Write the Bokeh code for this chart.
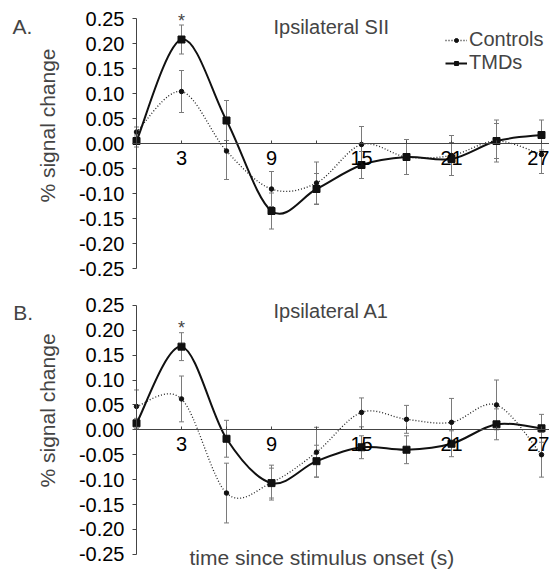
import numpy as np
from bokeh.plotting import figure
from bokeh.layouts import column
from bokeh.models import (ColumnDataSource, Whisker, TeeHead, Label, Legend, LegendItem,
                          FixedTicker, Range1d, CustomJSTickFormatter)
from bokeh.embed import file_html
from bokeh.resources import INLINE

# ---------------- data ----------------
time_s = [0, 3, 6, 9, 12, 15, 18, 21, 24, 27]

sii_controls = [0.023, 0.104, -0.015, -0.091, -0.079, -0.002, -0.027, -0.024, 0.005, -0.022]
sii_controls_se = [0.010, 0.042, 0.057, 0.035, 0.042, 0.036, 0.035, 0.040, 0.042, 0.038]
sii_tmds = [0.005, 0.208, 0.046, -0.135, -0.091, -0.043, -0.027, -0.031, 0.005, 0.017]
sii_tmds_se = [0.012, 0.029, 0.040, 0.036, 0.031, 0.027, 0.035, 0.033, 0.035, 0.030]

a1_controls = [0.047, 0.062, -0.127, -0.106, -0.045, 0.035, 0.021, 0.015, 0.050, -0.050]
a1_controls_se = [0.033, 0.046, 0.060, 0.035, 0.050, 0.029, 0.028, 0.048, 0.050, 0.045]
a1_tmds = [0.013, 0.167, -0.018, -0.107, -0.063, -0.035, -0.040, -0.028, 0.011, 0.003]
a1_tmds_se = [0.010, 0.028, 0.037, 0.030, 0.032, 0.023, 0.028, 0.026, 0.031, 0.028]

y_ticks = [-0.25, -0.20, -0.15, -0.10, -0.05, 0.0, 0.05, 0.10, 0.15, 0.20, 0.25]
x_tick_labels = [3, 9, 15, 21, 27]
x_minor_ticks = [6, 12, 18, 24]

FONT = "Liberation Sans"
FS = "20px"
X_END = 27.533


def smooth_segments(xs, ys):
    """Cubic Bezier control points (Catmull-Rom style) through the data points."""
    x = np.asarray(xs, float)
    y = np.asarray(ys, float)
    n = len(x)
    xp = np.concatenate([[x[0]], x, [x[-1]]])
    yp = np.concatenate([[y[0]], y, [y[-1]]])
    cx0 = xp[1:n] + (xp[2:n + 1] - xp[0:n - 1]) / 6
    cy0 = yp[1:n] + (yp[2:n + 1] - yp[0:n - 1]) / 6
    cx1 = xp[2:n + 1] - (xp[3:n + 2] - xp[1:n]) / 6
    cy1 = yp[2:n + 1] - (yp[3:n + 2] - yp[1:n]) / 6
    return dict(x0=x[:-1], y0=y[:-1], x1=x[1:], y1=y[1:],
                cx0=cx0, cy0=cy0, cx1=cx1, cy1=cy1)


def panel(height, y_lo, y_hi, ctrl, ctrl_se, tmd, tmd_se,
          letter, letter_xy, title, title_xy, star_y, ylab_y, legend_loc, xlabel):
    p = figure(width=549, height=height, output_backend="svg", toolbar_location=None,
               x_range=Range1d(-9.0667, X_END), y_range=Range1d(y_lo, y_hi),
               min_border=0, min_border_left=0, min_border_right=0,
               min_border_top=0, min_border_bottom=0)
    p.outline_line_color = None
    p.grid.visible = False
    p.background_fill_color = "white"
    p.border_fill_color = "white"

    # axes (fixed inside the frame, crossing at zero)
    xa = p.xaxis[0]
    xa.fixed_location = 0
    xa.bounds = (0, X_END)
    xa.ticker = FixedTicker(ticks=x_tick_labels, minor_ticks=x_minor_ticks)
    xa.axis_line_color = "#444444"
    xa.major_tick_line_color = "#444444"
    xa.minor_tick_line_color = "#444444"
    xa.major_tick_in = 3
    xa.major_tick_out = 0
    xa.minor_tick_in = 3
    xa.minor_tick_out = 0
    xa.major_label_standoff = 7
    xa.major_label_text_font = FONT
    xa.major_label_text_font_size = FS
    xa.major_label_text_color = "black"

    ya = p.yaxis[0]
    ya.fixed_location = 0
    ya.bounds = (-0.25, 0.25)
    ya.ticker = FixedTicker(ticks=y_ticks, minor_ticks=[])
    ya.formatter = CustomJSTickFormatter(code="return tick.toFixed(2);")
    ya.axis_line_color = "#444444"
    ya.major_tick_line_color = "#444444"
    ya.major_tick_in = 0
    ya.major_tick_out = 4
    ya.minor_tick_out = 0
    ya.minor_tick_in = 0
    ya.major_label_standoff = 8
    ya.major_label_text_font = FONT
    ya.major_label_text_font_size = FS
    ya.major_label_text_color = "black"

    # error bars
    for vals, se in ((ctrl, ctrl_se), (tmd, tmd_se)):
        v = np.asarray(vals)
        e = np.asarray(se)
        src = ColumnDataSource(dict(t=time_s, lo=v - e, hi=v + e))
        w = Whisker(base="t", lower="lo", upper="hi", source=src,
                    line_color="#7a7a7a", line_width=1,
                    upper_head=TeeHead(size=5, line_color="#7a7a7a", line_width=1),
                    lower_head=TeeHead(size=5, line_color="#7a7a7a", line_width=1))
        p.add_layout(w)

    # smoothed lines
    c_line = p.bezier(source=ColumnDataSource(smooth_segments(time_s, ctrl)),
                      x0="x0", y0="y0", x1="x1", y1="y1",
                      cx0="cx0", cy0="cy0", cx1="cx1", cy1="cy1",
                      line_color="#222222", line_width=1.3, line_dash="1 2")
    t_line = p.bezier(source=ColumnDataSource(smooth_segments(time_s, tmd)),
                      x0="x0", y0="y0", x1="x1", y1="y1",
                      cx0="cx0", cy0="cy0", cx1="cx1", cy1="cy1",
                      line_color="#111111", line_width=2)
    c_pts = p.scatter(time_s, ctrl, marker="circle", size=4.5,
                      fill_color="#111111", line_color="#111111")
    t_pts = p.scatter(time_s, tmd, marker="square", size=7,
                      fill_color="#111111", line_color="#111111")

    # texts
    p.add_layout(Label(x=letter_xy[0], y=letter_xy[1], text=letter, text_font=FONT,
                       text_font_size="21px", text_align="left", text_baseline="alphabetic"))
    p.add_layout(Label(x=title_xy[0], y=title_xy[1], text=title, text_font=FONT,
                       text_font_size=FS, text_align="left", text_baseline="alphabetic"))
    p.add_layout(Label(x=3, y=star_y, text="*", text_font=FONT, text_font_size="18px",
                       text_align="center", text_baseline="alphabetic"))
    p.add_layout(Label(x=-5.93, y=ylab_y, text="% signal change", text_font=FONT,
                       text_font_size="21px", angle=np.pi / 2,
                       text_align="center", text_baseline="middle"))
    if xlabel:
        p.add_layout(Label(x=3.53, y=-0.2555, text=xlabel, text_font=FONT,
                           text_font_size="21px", text_align="left",
                           text_baseline="alphabetic"))

    if legend_loc is not None:
        legend = Legend(items=[LegendItem(label="Controls", renderers=[c_line, c_pts]),
                               LegendItem(label="TMDs", renderers=[t_line, t_pts])],
                        location=legend_loc, border_line_color=None,
                        background_fill_alpha=0, label_text_font=FONT,
                        label_text_font_size=FS, label_text_line_height=1.0,
                        glyph_width=22, glyph_height=10,
                        label_height=20, spacing=0, padding=0, margin=0,
                        label_standoff=2)
        p.add_layout(legend, "center")
    return p


p1 = panel(280, -0.274, 0.286, sii_controls, sii_controls_se, sii_tmds, sii_tmds_se,
           "A.", (-8.27, 0.2346), "Ipsilateral SII", (9.13, 0.2326), 0.246, 0.036,
           (445, 206), None)
p2 = panel(289, -0.2805, 0.2998, a1_controls, a1_controls_se, a1_tmds, a1_tmds_se,
           "B.", (-8.22, 0.236), "Ipsilateral A1", (9.13, 0.238), 0.205, 0.0388,
           None, "time since stimulus onset (s)")

layout = column(p1, p2, spacing=0)
open("out.html", "w").write(file_html(layout, INLINE))
